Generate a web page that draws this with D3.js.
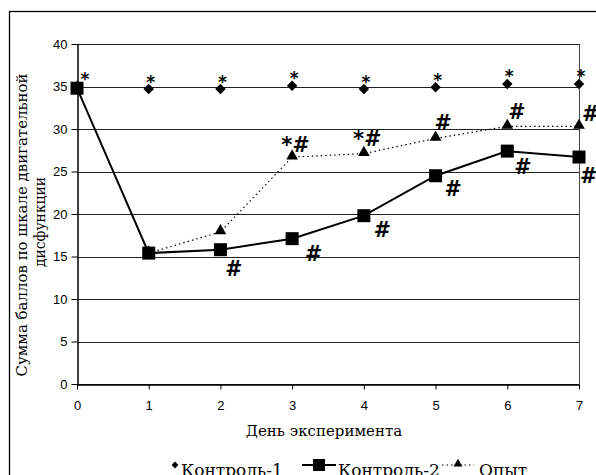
<!DOCTYPE html>
<html lang="ru">
<head>
  <meta charset="UTF-8">
  <title>Сумма баллов по шкале двигательной дисфункции</title>
  <script src="https://d3js.org/d3.v7.min.js"></script>
  <style>
    body { margin: 0; background: #fff; }
    svg { display: block; font-family: "DejaVu Serif", serif; }
    .grid line { stroke: #222; stroke-width: 1px; }
    .axis path, .axis line { stroke: #000; }
    .axis text { font-size: 13px; fill: #000; }
    .mark { font-family: "DejaVu Sans", sans-serif; font-weight: bold; fill: #000; }
  </style>
</head>
<body>
<svg id="chart" width="596" height="475"></svg>
<script>
  // data
  const days = [0, 1, 2, 3, 4, 5, 6, 7];
  const control1 = [35, 34.7, 34.7, 35.1, 34.7, 34.9, 35.3, 35.3];
  const control2 = [34.8, 15.4, 15.8, 17.1, 19.8, 24.5, 27.4, 26.7];
  const experiment = [34.8, 15.4, 17.9, 26.7, 27.1, 28.9, 30.3, 30.3];
  const yTicks = [0, 5, 10, 15, 20, 25, 30, 35, 40];
  const seriesNames = ["Контроль-1", "Контроль-2", "Опыт"];

  // significance marks: [day, text]
  const marks1 = [[0, "*"], [1, "*"], [2, "*"], [3, "*"], [4, "*"], [5, "*"], [6, "*"], [7, "*"]];
  const marks2 = [[2, "#"], [3, "#"], [4, "#"], [5, "#"], [6, "#"], [7, "#"]];
  const marks3 = [[3, "*#"], [4, "*#"], [5, "#"], [6, "#"], [7, "#"]];

  const svg = d3.select("#chart");
  const margin = { top: 44, left: 77, right: 17, bottom: 91 };
  const width = +svg.attr("width");
  const height = +svg.attr("height");

  // outer frame (right and bottom edges are outside the picture)
  svg.append("rect")
     .attr("x", 9.5).attr("y", 11.5)
     .attr("width", 700).attr("height", 600)
     .attr("fill", "none").attr("stroke", "#000").attr("stroke-width", 1.3);

  const x = d3.scaleLinear().domain([0, 7]).range([margin.left, width - margin.right]);
  const y = d3.scaleLinear().domain([0, 40]).range([height - margin.bottom, margin.top]);

  // horizontal grid
  svg.append("g").attr("class", "grid")
     .selectAll("line").data(yTicks).join("line")
     .attr("x1", x(0)).attr("x2", x(7))
     .attr("y1", d => Math.round(y(d)) + 0.5).attr("y2", d => Math.round(y(d)) + 0.5);

  // right edge of the plot area
  svg.append("line")
     .attr("x1", x(7) + 0.5).attr("x2", x(7) + 0.5)
     .attr("y1", y(40)).attr("y2", y(0))
     .attr("stroke", "#444").attr("stroke-width", 1);

  const xAxis = svg.append("g").attr("class", "axis")
     .attr("transform", "translate(0," + (Math.round(y(0)) + 0.5) + ")")
     .call(d3.axisBottom(x).tickValues(days).tickFormat(d3.format("d")).tickSize(5).tickSizeOuter(0).tickPadding(11));
  xAxis.select(".domain").attr("stroke-width", 1.5);

  const yAxis = svg.append("g").attr("class", "axis")
     .attr("transform", "translate(" + (Math.round(x(0)) + 0.5) + ",0)")
     .call(d3.axisLeft(y).tickValues(yTicks).tickSize(6).tickSizeOuter(0).tickPadding(4));
  yAxis.select(".domain").attr("stroke-width", 1.5);

  // axis titles
  svg.append("text")
     .attr("x", 324).attr("y", 436)
     .attr("text-anchor", "middle").attr("font-size", 15)
     .text("День эксперимента");

  svg.append("text")
     .attr("transform", "translate(27,225) rotate(-90)")
     .attr("text-anchor", "middle").attr("font-size", 15)
     .attr("textLength", 303).attr("lengthAdjust", "spacingAndGlyphs")
     .text("Сумма баллов по шкале двигательной");
  svg.append("text")
     .attr("transform", "translate(45,222) rotate(-90)")
     .attr("text-anchor", "middle").attr("font-size", 15)
     .attr("textLength", 90).attr("lengthAdjust", "spacingAndGlyphs")
     .text("дисфункции");

  // lines
  const line = d3.line().x((d, i) => x(days[i])).y(d => y(d));

  svg.append("path").datum(experiment.slice(1))
     .attr("d", d3.line().x((d, i) => x(days[i + 1])).y(d => y(d)))
     .attr("fill", "none").attr("stroke", "#000").attr("stroke-width", 1.2)
     .attr("stroke-dasharray", "1.5,3");

  svg.append("path").datum(control2)
     .attr("d", line)
     .attr("fill", "none").attr("stroke", "#000").attr("stroke-width", 2);

  // markers
  const diamond = d3.symbol().type(d3.symbolDiamond2).size(70);
  const triangle = d3.symbol().type(d3.symbolTriangle).size(60);

  svg.append("g").selectAll("path").data(experiment).join("path")
     .attr("d", triangle)
     .attr("transform", (d, i) => "translate(" + x(days[i]) + "," + (y(d) - 1) + ")");

  svg.append("g").selectAll("rect").data(control2).join("rect")
     .attr("x", (d, i) => x(days[i]) - 6.5).attr("y", d => y(d) - 6.5)
     .attr("width", 13).attr("height", 13);

  svg.append("g").selectAll("path").data(control1).join("path")
     .attr("d", diamond)
     .attr("transform", (d, i) => "translate(" + x(days[i]) + "," + y(d) + ")")
     .attr("opacity", (d, i) => i === 0 ? 0 : 1);

  // significance marks
  svg.append("g").selectAll("text").data(marks1).join("text")
     .attr("class", "mark").attr("font-size", 17)
     .attr("text-anchor", "middle")
     .attr("x", d => x(d[0]) + (d[0] === 0 ? 8 : 2))
     .attr("y", d => y(control1[d[0]]) - 1.5)
     .text(d => d[1]);

  const off2 = { 2: [12, 26], 3: [20, 22], 4: [17, 21], 5: [16, 20], 6: [14, 23], 7: [8, 26] };
  svg.append("g").selectAll("text").data(marks2).join("text")
     .attr("class", "mark").attr("font-size", 21).attr("font-style", "italic")
     .attr("text-anchor", "middle")
     .attr("x", d => x(d[0]) + off2[d[0]][0])
     .attr("y", d => y(control2[d[0]]) + off2[d[0]][1])
     .text(d => d[1]);

  const off3 = { 3: [2, -5], 4: [2, -8], 5: [6, -8], 6: [8, -7], 7: [10, -5] };
  svg.append("g").selectAll("text").data(marks3).join("text")
     .attr("class", "mark").attr("font-size", 21).attr("font-style", "italic")
     .attr("text-anchor", "middle")
     .attr("x", d => x(d[0]) + off3[d[0]][0])
     .attr("y", d => y(experiment[d[0]]) + off3[d[0]][1])
     .text(d => d[1]);

  // legend (its lower part falls outside the picture, as in the original)
  const lg = svg.append("g").attr("font-size", 17);
  const ly = 465;
  const lb = 476;
  lg.append("path").attr("d", diamond.size(30)).attr("transform", "translate(175," + ly + ")");
  lg.append("text").attr("x", 181).attr("y", lb).text(seriesNames[0]);
  lg.append("line").attr("x1", 302).attr("x2", 336).attr("y1", ly).attr("y2", ly)
    .attr("stroke", "#000").attr("stroke-width", 2);
  lg.append("rect").attr("x", 313).attr("y", ly - 6).attr("width", 12).attr("height", 12);
  lg.append("text").attr("x", 338).attr("y", lb).text(seriesNames[1]);
  lg.append("line").attr("x1", 442).attr("x2", 474).attr("y1", ly).attr("y2", ly)
    .attr("stroke", "#000").attr("stroke-width", 1.2).attr("stroke-dasharray", "1.5,3");
  lg.append("path").attr("d", triangle.size(35)).attr("transform", "translate(458," + (ly - 1) + ")");
  lg.append("text").attr("x", 479).attr("y", lb).text(seriesNames[2]);
</script>
</body>
</html>
